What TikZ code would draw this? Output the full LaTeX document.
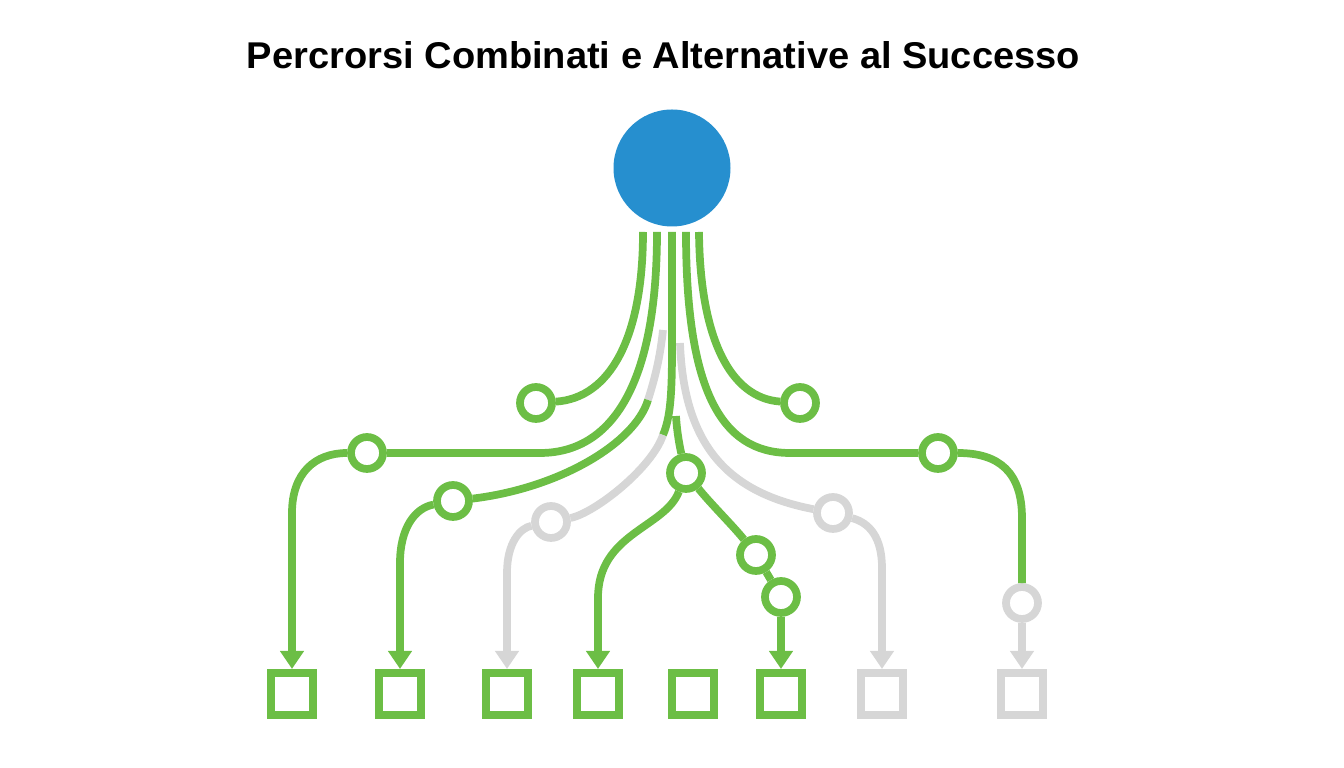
\documentclass[tikz,border=0pt]{standalone}
\usepackage{graphicx}
\usepackage{fontspec}
\setmainfont{Liberation Sans}
\usetikzlibrary{arrows.meta, calc}

\definecolor{hubblue}{RGB}{38,143,207}
\definecolor{okgreen}{RGB}{108,190,69}
\definecolor{offgray}{RGB}{214,214,214}

\begin{document}
\begin{tikzpicture}[
  link/.style={okgreen, line width=2.2pt},
  faded/.style={offgray, line width=2.2pt},
  junc/.style={circle, draw=okgreen, line width=2.2pt, fill=white, minimum size=0.32cm, inner sep=0pt},
  goal/.style={rectangle, draw=okgreen, line width=2.3pt, fill=white, minimum size=0.42cm, inner sep=0pt},
  tip/.style={-{Triangle[length=0.18cm, width=0.23cm]}}
]
  \useasboundingbox (0,0) rectangle (13.44,7.68);

  % Title
  \node (title) at (6.635,7.13)
    {\resizebox{8.33cm}{0.27cm}{\bfseries Percrorsi Combinati e Alternative al Successo}};

  % The starting point and the five strands below it
  \node[circle, fill=hubblue, minimum size=1.17cm, inner sep=0pt] (hub) at (6.72,6.00) {};
  \foreach \n/\x in {1/6.43, 2/6.57, 3/6.72, 4/6.86, 5/6.99}
    \coordinate (s\n) at (\x,5.36);

  % Loose ends where strands change colour or appear
  \coordinate (c1) at (6.63,4.38);
  \coordinate (c2) at (6.48,3.68);
  \coordinate (c4) at (6.63,3.33);
  \coordinate (e0) at (6.76,3.52);
  \coordinate (f0) at (6.80,4.25);

  % Junctions
  \node[junc] (jA) at (5.36,3.65) {};
  \node[junc] (jB) at (3.67,3.15) {};
  \node[junc] (jC) at (4.53,2.67) {};
  \node[junc, draw=offgray] (jD) at (5.51,2.46) {};
  \node[junc] (jE) at (6.86,2.95) {};
  \node[junc] (jF) at (7.56,2.13) {};
  \node[junc] (jG) at (7.81,1.71) {};
  \node[junc] (jH) at (8.00,3.65) {};
  \node[junc] (jI) at (9.38,3.15) {};
  \node[junc, draw=offgray] (jJ) at (8.33,2.55) {};
  \node[junc, draw=offgray] (jK) at (10.22,1.65) {};

  % Goals
  \foreach \n/\x in {1/2.92, 2/4.00, 3/5.07, 4/5.98, 5/6.93, 6/7.81}
    \node[goal] (g\n) at (\x,0.74) {};
  \node[goal, draw=offgray] (g7) at (8.82,0.74) {};
  \node[goal, draw=offgray] (g8) at (10.22,0.74) {};

  % Strands leaving the hub
  \draw[link] (s1) .. controls (6.43,4.30) and (6.10,3.70) .. (jA);
  \draw[link] (s2) .. controls (6.57,3.80) and (6.10,3.15) .. (5.40,3.15) -- (jB);
  \draw[link] (s3) -- (6.72,4.20) .. controls (6.72,3.70) and (6.70,3.50) .. (c4);
  \draw[faded] (c4) .. controls (6.52,3.00) and (5.95,2.55) .. (jD);
  \draw[faded] (c1) .. controls (6.60,4.10) and (6.55,3.90) .. (c2);
  \draw[link] (c2) .. controls (6.35,3.25) and (5.60,2.80) .. (jC);
  \draw[link] (s4) .. controls (6.86,3.80) and (7.20,3.15) .. (7.90,3.15) -- (jI);
  \draw[link] (s5) .. controls (7.00,4.30) and (7.30,3.70) .. (jH);
  \draw[faded] (f0) .. controls (6.84,3.20) and (7.30,2.75) .. (jJ);
  \draw[link] (e0) .. controls (6.77,3.35) and (6.80,3.20) .. (jE);

  % Down to the goals
  \draw[link, tip] (jB) .. controls (3.15,3.15) and (2.92,2.95) .. (2.92,2.55) -- (g1);
  \draw[link, tip] (jC) .. controls (4.15,2.60) and (4.00,2.40) .. (4.00,2.05) -- (g2);
  \draw[faded, tip] (jD) .. controls (5.20,2.40) and (5.07,2.25) .. (5.07,1.95) -- (g3);
  \draw[link, tip] (jE) .. controls (6.65,2.40) and (5.98,2.35) .. (5.98,1.70) -- (g4);
  \draw[link] (jE) .. controls (7.10,2.65) and (7.35,2.40) .. (jF);
  \draw[link] (jF) -- (jG);
  \draw[link, tip] (jG) -- (g6);
  \draw[faded, tip] (jJ) .. controls (8.70,2.45) and (8.82,2.30) .. (8.82,2.00) -- (g7);
  \draw[link] (jI) .. controls (10.00,3.15) and (10.22,2.95) .. (10.22,2.50) -- (jK);
  \draw[faded, tip] (jK) -- (g8);
\end{tikzpicture}
\end{document}
